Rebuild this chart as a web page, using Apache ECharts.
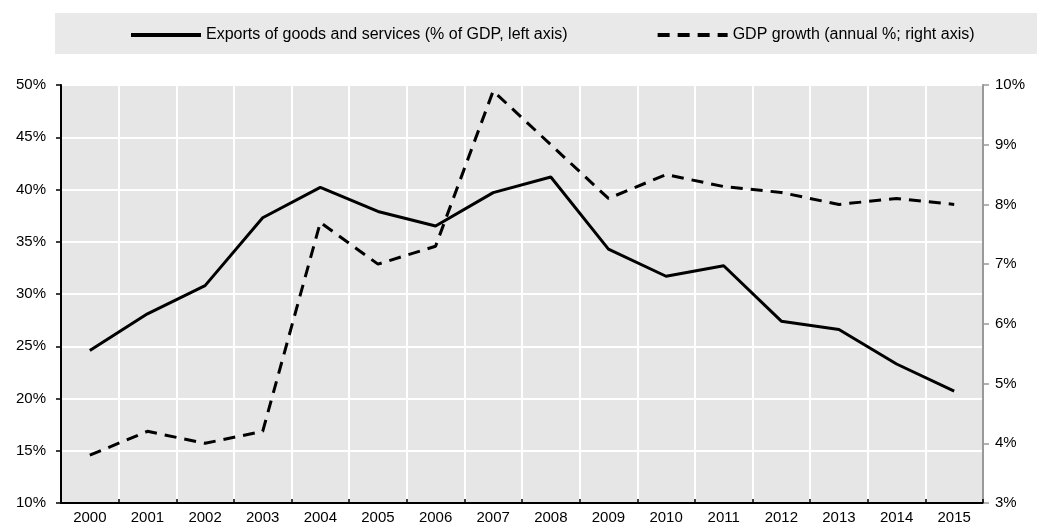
<!DOCTYPE html>
<html>
<head>
<meta charset="utf-8">
<script src="https://cdn.jsdelivr.net/npm/echarts@6/dist/echarts.min.js"></script>
<style>
  html, body { margin: 0; padding: 0; background: #fff; }
  #chart { width: 1037px; height: 529px; }
</style>
</head>
<body>
<div id="chart"></div>
<script>
const years = ['2000','2001','2002','2003','2004','2005','2006','2007','2008','2009','2010','2011','2012','2013','2014','2015']
const exportsShare = [24.6, 28.1, 30.8, 37.3, 40.2, 37.9, 36.5, 39.7, 41.2, 34.3, 31.7, 32.7, 27.4, 26.6, 23.3, 20.7]
const gdpGrowth = [3.8, 4.2, 4.0, 4.2, 7.7, 7.0, 7.3, 9.9, 9.0, 8.1, 8.5, 8.3, 8.2, 8.0, 8.1, 8.0]

const font = '"Liberation Sans", Arial, sans-serif'

const myChart = echarts.init(document.getElementById('chart'))

const option = {
  animation: false,
  graphic: [
    {
      type: 'rect',
      shape: { x: 55, y: 13, width: 982, height: 41 },
      style: { fill: '#e9e9e9' },
      z: -10
    }
  ],
  legend: {
    top: 22,
    left: 124,
    itemWidth: 70,
    itemHeight: 14,
    itemGap: 88,
    itemStyle: { opacity: 0 },
    lineStyle: { width: 4 },
    textStyle: { fontFamily: font, fontSize: 16, color: '#000' },
    data: [
      'Exports of goods and services (% of GDP, left axis)',
      'GDP growth (annual %; right axis)'
    ]
  },
  grid: {
    left: 61,
    right: 54,
    top: 85,
    bottom: 26,
    show: true,
    backgroundColor: '#e6e6e6',
    borderColor: '#000',
    borderWidth: 1.5
  },
  xAxis: {
    type: 'category',
    data: years,
    boundaryGap: true,
    axisLine: { lineStyle: { color: '#000', width: 2 } },
    axisTick: { show: true, inside: true, length: 4, lineStyle: { color: '#000', width: 1.5 } },
    axisLabel: { fontFamily: font, fontSize: 15, color: '#000', margin: 7 },
    splitLine: { show: true, lineStyle: { color: '#fff', width: 2 } }
  },
  yAxis: [
    {
      type: 'value',
      min: 10,
      max: 50,
      interval: 5,
      axisLine: { show: true, lineStyle: { color: '#000', width: 2 } },
      axisTick: { show: true, length: 5, lineStyle: { color: '#000', width: 1.5 } },
      axisLabel: { formatter: '{value}%', fontFamily: font, fontSize: 15, color: '#000', margin: 15 },
      splitLine: { show: true, lineStyle: { color: '#fff', width: 2 } }
    },
    {
      type: 'value',
      min: 3,
      max: 10,
      interval: 1,
      axisLine: { show: true, lineStyle: { color: '#999', width: 2 } },
      axisTick: { show: true, length: 6, lineStyle: { color: '#999', width: 1.5 } },
      axisLabel: { formatter: '{value}%', fontFamily: font, fontSize: 15, color: '#000', margin: 12 },
      splitLine: { show: false }
    }
  ],
  series: [
    {
      name: 'Exports of goods and services (% of GDP, left axis)',
      type: 'line',
      yAxisIndex: 0,
      data: exportsShare,
      symbol: 'none',
      lineStyle: { color: '#000', width: 3 },
      itemStyle: { color: '#000' }
    },
    {
      name: 'GDP growth (annual %; right axis)',
      type: 'line',
      yAxisIndex: 1,
      data: gdpGrowth,
      symbol: 'none',
      lineStyle: { color: '#000', width: 3, type: [12, 8] },
      itemStyle: { color: '#000' }
    }
  ]
}

option && myChart.setOption(option)
</script>
</body>
</html>
